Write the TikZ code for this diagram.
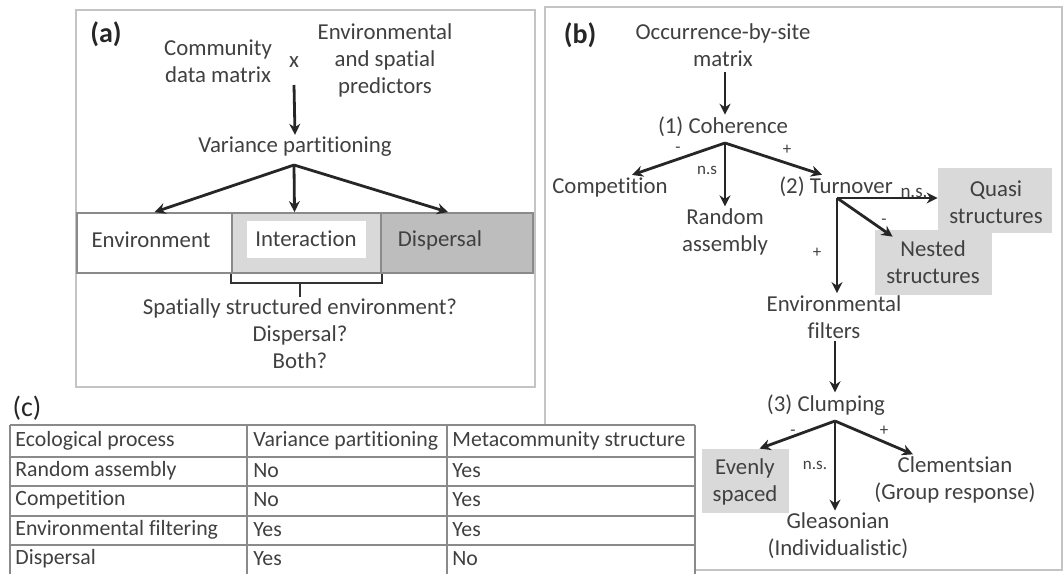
\documentclass[tikz,border=0pt]{standalone}
\usepackage{fontspec}
\setmainfont{Carlito}[Ligatures=CommonOff]
\usetikzlibrary{arrows.meta, positioning}
\definecolor{InkGray}{HTML}{404040}
\definecolor{FrameGray}{HTML}{C4C4C4}
\definecolor{CellGray}{HTML}{D9D9D9}
\definecolor{DarkCell}{HTML}{BDBDBD}
\definecolor{RuleGray}{HTML}{8A8A8A}
\tikzset{
  lbl/.style={text=InkGray, align=center, inner sep=1pt,
    font=\fontsize{11.4}{13.5}\selectfont},
  tag/.style={text=black!85, inner sep=0pt, font=\fontsize{14}{16}\selectfont\bfseries},
  sgn/.style={text=InkGray, inner sep=0pt, font=\fontsize{8.5}{9}\selectfont},
  gbox/.style={fill=CellGray, draw=none, inner sep=0pt},
  barcell/.style={draw=RuleGray, line width=0.9pt, minimum height=30pt, inner sep=0pt},
  frame/.style={draw=FrameGray, line width=1pt},
  rule/.style={draw=RuleGray, line width=0.8pt},
  brk/.style={draw=black!80, line width=1.1pt},
  flow/.style={-{Stealth[length=5.5pt, width=5.5pt]}, line width=1.4pt, draw=black!85},
  cell/.style={text=InkGray, anchor=west, inner sep=0pt,
    font=\fontsize{10.9}{12}\selectfont},
}
\begin{document}
\begin{tikzpicture}[x=0.5pt, y=-0.5pt]
  \useasboundingbox (0,0) rectangle (1064,573);
  % panel frames
  \draw[frame] (76,10) rectangle (535,387);
  \draw[frame] (545,7) rectangle (1062,570);

  % (a) variance partitioning
  \node[tag] (tagA) at (106,34) {(a)};
  \node[lbl] (cdm) at (218,61) {Community\\data matrix};
  \node[lbl] (times) at (294,62) {x};
  \node[lbl] (esp) at (385,60) {Environmental\\and spatial\\predictors};
  \coordinate (xa) at (294,85);
  \node[lbl] (vp) at (295,147) {Variance partitioning};
  \coordinate (va) at (294,165);
  \node[barcell, fill=white, minimum width=77.5pt] (env) at (154.5,243) {};
  \node[barcell, fill=CellGray, minimum width=74.5pt] (int) at (306.5,243) {};
  \node[barcell, fill=DarkCell, minimum width=76pt] (disp) at (457,243) {};
  \node[lbl] (envl) at (151,240) {Environment};
  \node[lbl, fill=white, minimum width=59.5pt, minimum height=18.5pt] (intl) at (306,239) {Interaction};
  \node[lbl] (displ) at (440,240) {Dispersal};
  \node[lbl] (q) at (300,334) {Spatially structured environment?\\Dispersal?\\Both?};
  \draw[flow] (xa) -- (vp.north);
  \draw[flow] (va) -- (env.north);
  \draw[flow] (va) -- ([xshift=-6pt]int.north);
  \draw[flow] (va) -- ([xshift=-4.5pt]disp.north);
  \draw[brk] (int.south west) -- ++(0,9) coordinate (b1) -| (int.south east);
  \draw[brk] (b1 -| q.north) -- (q.north);

  % (b) metacommunity structure
  \node[tag] (tagB) at (580,35) {(b)};
  \node[lbl] (occ) at (723,45) {Occurrence-by-site\\matrix};
  \coordinate (oa) at (725,72);
  \node[lbl] (coh) at (723,127) {(1) Coherence};
  \coordinate (ca) at (725,143);
  \node[lbl] (comp) at (610,187) {Competition};
  \node[lbl] (rand) at (725,232) {Random\\assembly};
  \node[lbl] (turn) at (836,187) {(2) Turnover};
  \coordinate (tn) at (837,198);
  \node[gbox, minimum width=57pt, minimum height=32.5pt] (quasi) at (995,200.5) {};
  \node[gbox, minimum width=58.5pt, minimum height=32.5pt] (nest) at (933.5,262.5) {};
  \node[lbl] (quasil) at (996,202) {Quasi\\structures};
  \node[lbl] (nestl) at (933,262) {Nested\\structures};
  \node[lbl] (envf) at (834,317) {Environmental\\filters};
  \node[lbl] (clump) at (826,405) {(3) Clumping};
  \coordinate (cl) at (835,421);
  \node[gbox, minimum width=43.5pt, minimum height=32pt] (even) at (745.5,481) {};
  \node[lbl] (evenl) at (745,482) {Evenly\\spaced};
  \node[lbl] (clem) at (955,480) {Clementsian\\(Group response)};
  \node[lbl] (glea) at (838,536) {Gleasonian\\(Individualistic)};
  \draw[flow] (oa) -- (coh.north -| oa);
  \draw[flow] (ca) -- ([xshift=11pt]comp.north);
  \draw[flow] (ca) -- (rand.north);
  \draw[flow] (ca) -- ([xshift=-7pt]turn.north);
  \draw[flow] (tn) -- (tn -| quasi.west);
  \draw[flow] (tn) -- ([xshift=9pt,yshift=-3.5pt]nest.north west);
  \draw[flow] (tn) -- (envf.north -| tn);
  \draw[flow] (envf.south -| cl) -- (clump.north -| cl);
  \draw[flow] (cl) -- ([xshift=7pt]even.north);
  \draw[flow] (cl) -- (glea.north -| cl);
  \draw[flow] (cl) -- ([xshift=-21pt]clem.north);
  \node[sgn] (s1) at (678,150) {-};
  \node[sgn] (s2) at (787,150) {+};
  \node[sgn] (s3) at (707,170) {n.s};
  \node[lbl, font=\fontsize{9.5}{11}\selectfont] (s4) at (914,193) {n.s.};
  \node[sgn] (s5) at (884,222) {-};
  \node[sgn] (s6) at (817,253) {+};
  \node[sgn] (s7) at (793,433) {-};
  \node[sgn] (s8) at (884,431) {+};
  \node[sgn] (s9) at (815,465) {n.s.};

  % (c) comparison table
  \node[tag, font=\fontsize{14}{16}\selectfont] (tagC) at (27,408) {(c)};
  \fill[white] (10,425) rectangle (695,580);
  \foreach \yy in {425,457,486,516,545}
    \draw[rule] (10,\yy) -- (695,\yy);
  \foreach \xx in {10,247,447,695}
    \draw[rule] (\xx,425) -- (\xx,580);
  \foreach \pa/\pb/\pc [count=\i] in {Ecological process/Variance partitioning/Metacommunity structure,
      Random assembly/No/Yes, Competition/No/Yes, Environmental filtering/Yes/Yes, Dispersal/Yes/No}{
    \node[cell] (row\i-a) at (15,{411+29.6*\i}) {\pa};
    \node[cell] (row\i-b) at (253,{411+29.6*\i}) {\pb};
    \node[cell] (row\i-c) at (452,{411+29.6*\i}) {\pc};
  }
\end{tikzpicture}
\end{document}
